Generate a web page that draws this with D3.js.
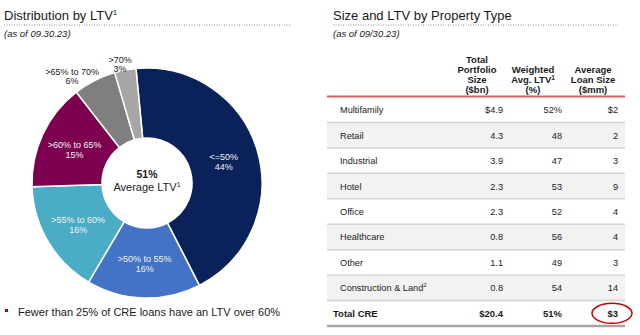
<!DOCTYPE html>
<html>
<head>
<meta charset="utf-8">
<script src="https://cdn.jsdelivr.net/npm/d3@7"></script>
<style>
  body { margin: 0; background: #fff; }
  svg { font-family: "Liberation Sans", Arial, sans-serif; }
</style>
</head>
<body>
<svg id="chart" width="640" height="335"></svg>
<script>
// donut data
const ltvBuckets = ["<=50%", ">50% to 55%", ">55% to 60%", ">60% to 65%", ">65% to 70%", ">70%"];
const ltvShares = [44, 16, 16, 15, 6, 3];
const ltvColors = ["#0b2159", "#4472c4", "#4bacc6", "#7d0050", "#7f7f7f", "#a6a6a6"];
const avgLtv = 51;

// table data
const propertyTypes = ["Multifamily", "Retail", "Industrial", "Hotel", "Office", "Healthcare", "Other", "Construction & Land", "Total CRE"];
const portfolioSize = [4.9, 4.3, 3.9, 2.3, 2.3, 0.8, 1.1, 0.8, 20.4];
const weightedLtv = [52, 48, 47, 53, 52, 56, 49, 54, 51];
const avgLoanSize = [2, 2, 3, 9, 4, 4, 3, 14, 3];
const headers = [
    ["Total", "Portfolio", "Size", "($bn)"],
    ["Weighted", "Avg. LTV¹", "(%)"],
    ["Average", "Loan Size", "($mm)"]
];

const svg = d3.select("#chart");
const textColor = "#1a1a1a";

// titles
function sectionTitle(x, x2, title, sup, sub) {
    const t = svg.append("text")
        .attr("x", x).attr("y", 20)
        .attr("font-size", 13).attr("fill", textColor)
        .text(title);
    if (sup) t.append("tspan").attr("font-size", 8).attr("dy", -5).text(sup);
    svg.append("line")
        .attr("x1", x).attr("x2", x2)
        .attr("y1", 25).attr("y2", 25)
        .attr("stroke", "#8c8c8c")
        .attr("stroke-dasharray", "1,1.5");
    svg.append("text")
        .attr("x", x).attr("y", 37)
        .attr("font-size", 9.5).attr("font-style", "italic")
        .attr("fill", textColor)
        .text(sub);
}
sectionTitle(4, 290, "Distribution by LTV", "1", "(as of 09.30.23)");
sectionTitle(333, 618, "Size and LTV by Property Type", null, "(as of 09/30.23)");

// donut
const cx = 147, cy = 183, outerR = 115, innerR = 45;
const startAngle = -5.5 * Math.PI / 180;
const pie = d3.pie().sort(null).value(d => d)
    .startAngle(startAngle).endAngle(startAngle + 2 * Math.PI);
const arcs = pie(ltvShares);
const arc = d3.arc().innerRadius(innerR).outerRadius(outerR);
const inLabelArc = d3.arc().innerRadius(80).outerRadius(80);
const outLabelArc = d3.arc().innerRadius(123).outerRadius(123);

const g = svg.append("g").attr("transform", `translate(${cx},${cy})`);
g.selectAll("path")
    .data(arcs)
    .enter()
    .append("path")
    .attr("d", arc)
    .attr("fill", (d, i) => ltvColors[i])
    .attr("stroke", "#fff")
    .attr("stroke-width", 1.5);

g.selectAll("text.lbl")
    .data(arcs)
    .enter()
    .append("text")
    .attr("class", "lbl")
    .attr("text-anchor", "middle")
    .attr("font-size", 9)
    .attr("fill", (d, i) => i < 4 ? "#f2f2f2" : textColor)
    .each(function (d, i) {
        const outside = ltvShares[i] < 10;
        let [x, y] = (outside ? outLabelArc : inLabelArc).centroid(d);
        const t = d3.select(this);
        const l1 = t.append("tspan").attr("x", x).attr("y", y - 1).text(ltvBuckets[i]);
        const l2 = t.append("tspan").attr("x", x).attr("y", y + 9).text(ltvShares[i] + "%");
        if (outside) {
            // outside labels sit to the upper-left, right edge just past the anchor point
            const w = l1.node().getComputedTextLength();
            const mx = x + 8 - w / 2;
            l1.attr("x", mx).attr("y", y + 1);
            l2.attr("x", mx).attr("y", y + 10);
        }
    });

g.append("text")
    .attr("text-anchor", "middle").attr("y", -5)
    .attr("font-size", 10.5).attr("font-weight", "bold").attr("fill", textColor)
    .text(avgLtv + "%");
const avgT = g.append("text")
    .attr("text-anchor", "middle").attr("y", 8)
    .attr("font-size", 11).attr("fill", textColor)
    .text("Average LTV");
avgT.append("tspan").attr("font-size", 7).attr("dy", -4).text("1");

// bullet
svg.append("rect")
    .attr("x", 5).attr("y", 309).attr("width", 3).attr("height", 3)
    .attr("fill", "#c00000");
svg.append("text")
    .attr("x", 18).attr("y", 316)
    .attr("font-size", 11).attr("fill", textColor)
    .text("Fewer than 25% of CRE loans have an LTV over 60%");

// table
const tableLeft = 327, tableRight = 625;
const y = d3.scaleBand().domain(propertyTypes).range([97, 326]);
const colCenter = [477, 533, 593];
const colRight = [503, 562, 618];
const last = propertyTypes.length - 1;

const rows = svg.append("g");
rows.selectAll("rect")
    .data(propertyTypes)
    .enter()
    .append("rect")
    .attr("x", tableLeft).attr("width", tableRight - tableLeft)
    .attr("y", d => y(d)).attr("height", y.bandwidth())
    .attr("fill", (d, i) => i % 2 ? "#f2f2f2" : "#fff");

rows.selectAll("line.sep")
    .data(propertyTypes.slice(0, last))
    .enter()
    .append("line")
    .attr("class", "sep")
    .attr("x1", tableLeft).attr("x2", tableRight)
    .attr("y1", d => y(d) + y.bandwidth()).attr("y2", d => y(d) + y.bandwidth())
    .attr("stroke", "#d4d4d4").attr("stroke-width", 1.5);

rows.append("line")
    .attr("x1", tableLeft).attr("x2", tableRight)
    .attr("y1", 326).attr("y2", 326)
    .attr("stroke", "#a6a6a6").attr("stroke-width", 2.5);

rows.append("line")
    .attr("x1", tableLeft).attr("x2", tableRight)
    .attr("y1", 96.5).attr("y2", 96.5)
    .attr("stroke", "#dc5a5a").attr("stroke-width", 2);

// header
headers.forEach((lines, c) => {
    const t = svg.append("text")
        .attr("text-anchor", "middle")
        .attr("font-size", 9.5).attr("font-weight", "bold").attr("fill", textColor);
    lines.forEach((ln, k) => {
        const baseY = 93 - (lines.length - 1 - k) * 10;
        const sp = t.append("tspan").attr("x", colCenter[c]).attr("y", baseY);
        if (ln.endsWith("¹")) {
            sp.text(ln.slice(0, -1));
            sp.append("tspan").attr("font-size", 6.5).attr("dy", -3).text("1");
            sp.append("tspan").attr("dy", 3).text("");
        } else {
            sp.text(ln);
        }
    });
});

const fmtSize = (v, i) => (i === 0 || i === last ? "$" : "") + v.toFixed(1);
const fmtLtv = (v, i) => v + (i === 0 || i === last ? "%" : "");
const fmtLoan = (v, i) => (i === 0 || i === last ? "$" : "") + v;

propertyTypes.forEach((name, i) => {
    const yy = y(name) + y.bandwidth() / 2 + 3.5;
    const bold = i === last;
    const lbl = svg.append("text")
        .attr("x", bold ? 333 : 340).attr("y", yy)
        .attr("font-size", bold ? 9.5 : 9.2)
        .attr("font-weight", bold ? "bold" : "normal")
        .attr("fill", textColor);
    lbl.text(name);
    if (name.startsWith("Construction")) {
        lbl.append("tspan").attr("font-size", 6).attr("dy", -4).text("2");
    }
    const vals = [fmtSize(portfolioSize[i], i), fmtLtv(weightedLtv[i], i), fmtLoan(avgLoanSize[i], i)];
    vals.forEach((v, c) => {
        svg.append("text")
            .attr("x", colRight[c]).attr("y", yy)
            .attr("text-anchor", "end")
            .attr("font-size", bold ? 9.5 : 9.2)
            .attr("font-weight", bold ? "bold" : "normal")
            .attr("fill", textColor)
            .text(v);
    });
});

// red circle around total loan size
svg.append("ellipse")
    .attr("cx", 612).attr("cy", y(propertyTypes[last]) + y.bandwidth() / 2)
    .attr("rx", 20).attr("ry", 10)
    .attr("fill", "none")
    .attr("stroke", "#c00000").attr("stroke-width", 1.5);
</script>
</body>
</html>
